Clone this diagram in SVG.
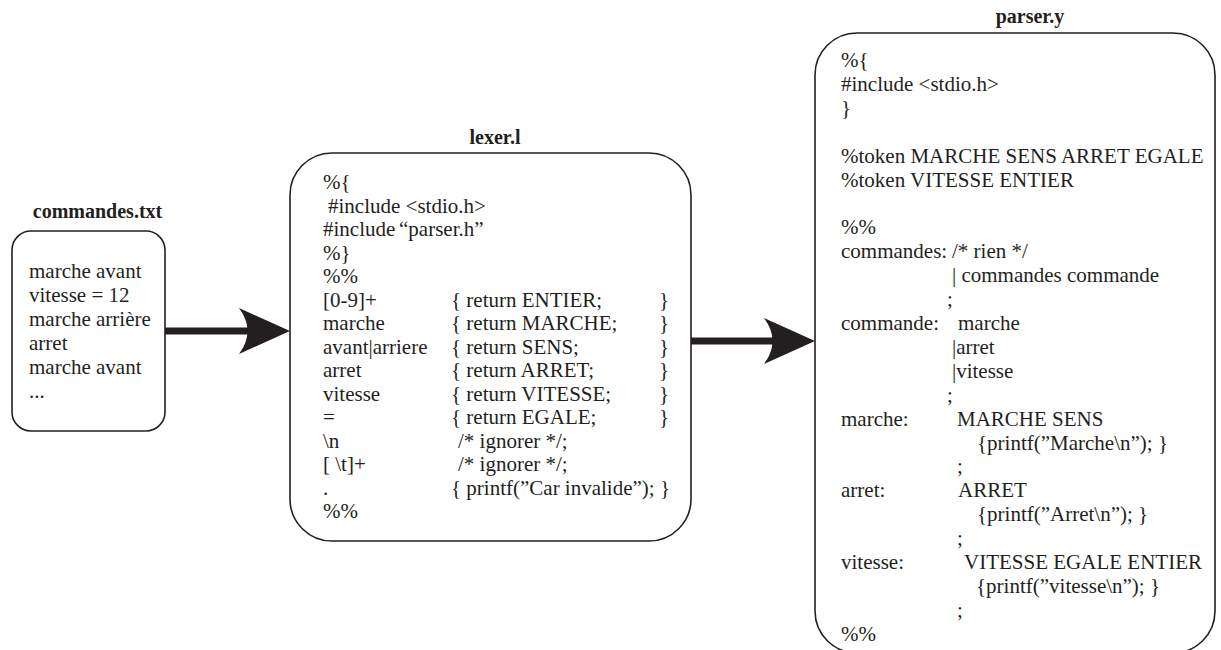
<svg xmlns="http://www.w3.org/2000/svg" width="1221" height="650" viewBox="0 0 1221 650">
<style>
.box{fill:#fff;stroke:#231f20;stroke-width:1.6}
.t{font-family:'Liberation Serif','Times New Roman','DejaVu Serif',serif;font-size:21px;fill:#231f20}
.title{font-family:'Liberation Serif','Times New Roman','DejaVu Serif',serif;font-size:20px;font-weight:bold;fill:#231f20;text-anchor:middle}
.conn{stroke:#231f20;stroke-width:7;fill:none}
</style>
<defs>
<marker id="head" markerUnits="userSpaceOnUse" viewBox="0 0 51 46" refX="23" refY="23" markerWidth="51" markerHeight="46" orient="auto">
<path d="M0,0 L51,23 L0,46 Q17,23 0,0 Z" fill="#231f20"/>
</marker>
</defs>

<g id="commandes">
<text class="title" x="97.5" y="218">commandes.txt</text>
<rect class="box" x="12" y="231" width="153" height="200" rx="19" ry="19"/>
<text class="t" x="29" y="278">marche avant</text>
<text class="t" x="29" y="302">vitesse = 12</text>
<text class="t" x="29" y="326">marche arrière</text>
<text class="t" x="29" y="350">arret</text>
<text class="t" x="29" y="374">marche avant</text>
<text class="t" x="29" y="398">...</text>
</g>

<g id="lexer">
<text class="title" x="495" y="144">lexer.l</text>
<rect class="box" x="290" y="153" width="401" height="388" rx="42" ry="42"/>
<text class="t" x="323" y="189">%{</text>
<text class="t" x="328" y="212.5">#include &lt;stdio.h&gt;</text>
<text class="t" x="323" y="236">#include<tspan x="399">“parser.h”</tspan></text>
<text class="t" x="323" y="259.5">%}</text>
<text class="t" x="323" y="283">%%</text>
<text class="t" x="323" y="306.5">[0-9]+</text>
<text class="t" x="323" y="330">marche</text>
<text class="t" x="323" y="353.5">avant|arriere</text>
<text class="t" x="323" y="377">arret</text>
<text class="t" x="323" y="400.5">vitesse</text>
<text class="t" x="323" y="424">=</text>
<text class="t" x="323" y="447.5">\n</text>
<text class="t" x="323" y="471">[ \t]+</text>
<text class="t" x="323" y="494.5">.</text>
<text class="t" x="323" y="518">%%</text>
<text class="t" x="451" y="306.5">{ return ENTIER;</text>
<text class="t" x="451" y="330">{ return MARCHE;</text>
<text class="t" x="451" y="353.5">{ return SENS;</text>
<text class="t" x="451" y="377">{ return ARRET;</text>
<text class="t" x="451" y="400.5">{ return VITESSE;</text>
<text class="t" x="451" y="424">{ return EGALE;</text>
<text class="t" x="458" y="447.5">/* ignorer */;</text>
<text class="t" x="458" y="471">/* ignorer */;</text>
<text class="t" x="451" y="494.5">{ printf(”Car invalide”); }</text>
<text class="t" x="659" y="306.5">}</text>
<text class="t" x="659" y="330">}</text>
<text class="t" x="659" y="353.5">}</text>
<text class="t" x="659" y="377">}</text>
<text class="t" x="659" y="400.5">}</text>
<text class="t" x="659" y="424">}</text>
</g>

<g id="parser">
<text class="title" x="1030" y="23">parser.y</text>
<rect class="box" x="815" y="33" width="400" height="620" rx="42" ry="42"/>
<text class="t" x="841" y="67">%{</text>
<text class="t" x="841" y="91">#include &lt;stdio.h&gt;</text>
<text class="t" x="841" y="115">}</text>
<text class="t" x="841" y="163">%token MARCHE SENS ARRET EGALE</text>
<text class="t" x="841" y="187">%token VITESSE ENTIER</text>
<text class="t" x="841" y="234">%%</text>
<text class="t" x="841" y="258">commandes:</text>
<text class="t" x="952" y="258">/* rien */</text>
<text class="t" x="952" y="282">| commandes commande</text>
<text class="t" x="947" y="306">;</text>
<text class="t" x="841" y="330">commande:</text>
<text class="t" x="958" y="330">marche</text>
<text class="t" x="952" y="354">|arret</text>
<text class="t" x="952" y="378">|vitesse</text>
<text class="t" x="947" y="402">;</text>
<text class="t" x="841" y="426">marche:</text>
<text class="t" x="957" y="426">MARCHE SENS</text>
<text class="t" x="977" y="450">{printf(”Marche\n”); }</text>
<text class="t" x="957" y="473">;</text>
<text class="t" x="841" y="497">arret:</text>
<text class="t" x="958" y="497">ARRET</text>
<text class="t" x="977" y="521">{printf(”Arret\n”); }</text>
<text class="t" x="957" y="545">;</text>
<text class="t" x="841" y="569">vitesse:</text>
<text class="t" x="964" y="569">VITESSE EGALE ENTIER</text>
<text class="t" x="976" y="593">{printf(”vitesse\n”); }</text>
<text class="t" x="957" y="617">;</text>
<text class="t" x="841" y="641">%%</text>
</g>

<g id="connectors">
<line class="conn" x1="165" y1="331" x2="262" y2="331" marker-end="url(#head)"/>
<line class="conn" x1="691" y1="341" x2="787" y2="341" marker-end="url(#head)"/>
</g>
</svg>
